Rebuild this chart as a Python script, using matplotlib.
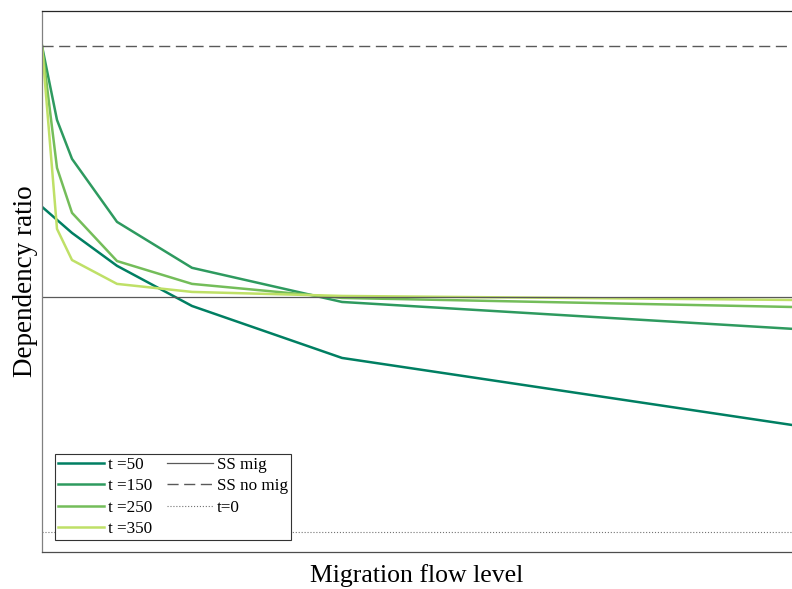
import matplotlib.pyplot as plt

# --- data (arbitrary units) ---
flow = [0, 0.05, 0.1, 0.25, 0.5, 1.0, 2.5]
t50 = [0.359, 0.307, 0.255, 0.124, -0.036, -0.243, -0.510]
t150 = [1.0, 0.705, 0.550, 0.299, 0.116, -0.020, -0.127]
t250 = [1.0, 0.514, 0.335, 0.143, 0.052, -0.004, -0.040]
t350 = [1.0, 0.271, 0.147, 0.052, 0.020, 0.004, -0.012]
series_labels = ["t =50", "t =150", "t =250", "t =350"]
colors = ["#007f62", "#2e9a5f", "#74bd5a", "#bfe067"]

ss_mig = 0.0
ss_no_mig = 1.0
t0 = -0.936

plt.rcParams["font.family"] = ["Liberation Serif", "DejaVu Serif"]

fig = plt.figure(figsize=(7.92, 5.89), dpi=100)
ax = fig.add_axes([42 / 792, 1 - 552 / 589, 1 - 42 / 792, (552 - 11) / 589])

handles = []
for ys, lab, c in zip([t50, t150, t250, t350], series_labels, colors):
    h, = ax.plot(flow, ys, color=c, lw=1.8, label=lab)
    handles.append(h)

h1 = ax.axhline(ss_mig, color="0.35", lw=0.9, label="SS mig")
h2 = ax.axhline(ss_no_mig, color="0.35", lw=1.0, dashes=(8, 4), label="SS no mig")
h3 = ax.axhline(t0, color="0.45", lw=0.8, ls=":", label="t=0")
handles += [h1, h2, h3]

ax.set_xlim(0, 2.5)
ax.set_ylim(-1.016, 1.139)
ax.set_xticks([])
ax.set_yticks([])
ax.spines["right"].set_visible(False)
ax.spines["top"].set_color("0.15")
ax.spines["left"].set_color("0.5")
ax.spines["bottom"].set_color("0.3")
for s in ax.spines.values():
    s.set_linewidth(0.9)

ax.set_xlabel("Migration flow level", fontsize=18.5, labelpad=9)
ax.set_ylabel("Dependency ratio", fontsize=19.5, labelpad=3)

leg = ax.legend(handles=handles, ncol=2, loc="lower left", bbox_to_anchor=(0.017, 0.022),
                fontsize=12.3, frameon=True, fancybox=False, edgecolor="0.2",
                framealpha=1, borderpad=0.2, labelspacing=0.3, handlelength=2.7,
                handletextpad=0.2, columnspacing=0.9, borderaxespad=0)
leg.get_frame().set_linewidth(0.8)

fig.savefig("out.png", dpi=100)
